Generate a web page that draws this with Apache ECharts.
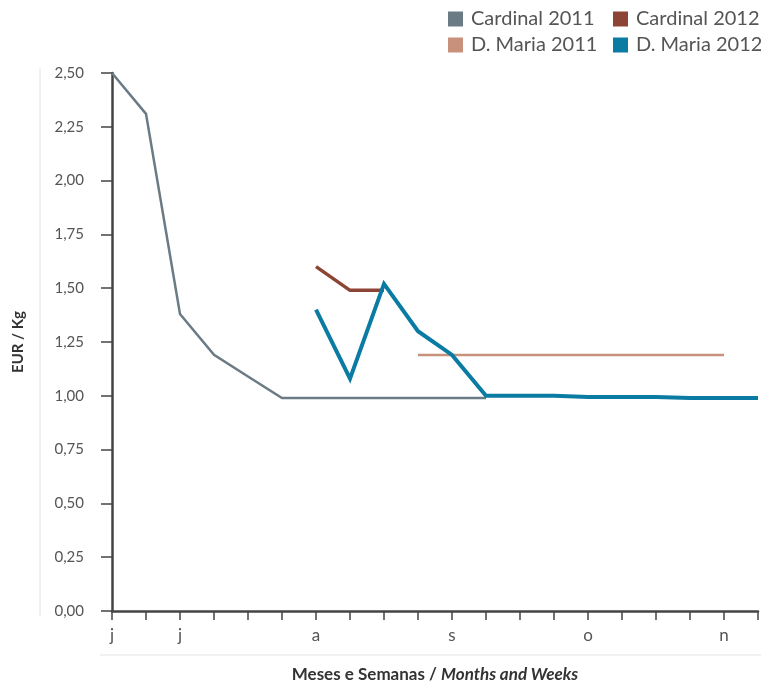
<!DOCTYPE html>
<html><head><meta charset="utf-8">
<script src="https://cdn.jsdelivr.net/npm/echarts@6/dist/echarts.min.js"></script>
<style>html,body{margin:0;padding:0;background:#fff}#c{width:761px;height:684px}</style>
</head><body><div id="c"></div>
<script>
// week index categories (June .. November)
const weeks = ['w0','w1','w2','w3','w4','w5','w6','w7','w8','w9','w10','w11','w12','w13','w14','w15','w16','w17','w18','w19'];
const weekLabels = ['j','','j','','','','a','','','','s','','','','o','','','','n',''];

const cardinal2011 = [2.50,2.31,1.38,1.19,1.09,0.99,0.99,0.99,0.99,0.99,0.99,0.99,null,null,null,null,null,null,null,null];
const cardinal2012 = [null,null,null,null,null,null,1.60,1.49,1.49,null,null,null,null,null,null,null,null,null,null,null];
const dMaria2011   = [null,null,null,null,null,null,null,null,null,1.19,1.19,1.19,1.19,1.19,1.19,1.19,1.19,1.19,1.19,null];
const dMaria2012   = [null,null,null,null,null,null,1.40,1.08,1.52,1.30,1.19,1.00,1.00,1.00,0.995,0.995,0.995,0.99,0.99,0.99];

const FONT = 'Lato';
const chart = echarts.init(document.getElementById('c'));
const mk = (name, data, color, width, z) => ({
  name, type:'line', data, symbol:'none', connectNulls:false, z,
  lineStyle:{color, width, cap:'butt', join:'miter'}, itemStyle:{color}
});
const legendText = {fontSize:20, lineHeight:20, color:'#555', fontFamily:FONT, padding:[0,0,0,3]};
chart.setOption({
  animation:false,
  textStyle:{fontFamily:FONT},
  grid:{left:112, right:3, top:73, bottom:73, containLabel:false, outerBoundsMode:'none'},
  legend:[
    {left:448, top:9, padding:0, orient:'vertical', itemGap:6, itemWidth:15, itemHeight:15, icon:'rect',
     data:['Cardinal 2011','D. Maria 2011'], textStyle:legendText},
    {left:613, top:9, padding:0, orient:'vertical', itemGap:6, itemWidth:15, itemHeight:15, icon:'rect',
     data:['Cardinal 2012','D. Maria 2012'], textStyle:legendText}
  ],
  xAxis:{
    type:'category', data:weeks, boundaryGap:false,
    axisLine:{lineStyle:{color:'#444', width:2.5}},
    axisTick:{show:true, interval:0, length:9, lineStyle:{color:'#444', width:1.5}},
    axisLabel:{interval:0, margin:16, fontSize:17, color:'#555', fontFamily:FONT,
      formatter:(v,i)=>weekLabels[i]},
    splitLine:{show:false},
    name:'{b|Meses e Semanas / }{bi|Months and Weeks}', nameLocation:'middle', nameGap:55,
    nameTextStyle:{rich:{b:{fontWeight:'bold', fontSize:17, color:'#333', fontFamily:FONT},
                         bi:{fontWeight:'bold', fontStyle:'italic', fontSize:17, color:'#333', fontFamily:FONT}}}
  },
  yAxis:{
    type:'value', min:0, max:2.5, interval:0.25,
    axisLine:{show:true, lineStyle:{color:'#444', width:2.5}},
    axisTick:{show:true, length:11, lineStyle:{color:'#444', width:1.5}},
    axisLabel:{margin:28, fontSize:15, color:'#555', fontFamily:FONT,
      formatter:v=>v.toFixed(2).replace('.',',')},
    splitLine:{show:false},
    name:'EUR / Kg', nameLocation:'middle', nameGap:86, nameRotate:90,
    nameTextStyle:{fontWeight:'bold', fontSize:15, color:'#333', fontFamily:FONT}
  },
  graphic:[
    {type:'line', shape:{x1:40, y1:68, x2:40, y2:616}, style:{stroke:'#e2e2e2', lineWidth:1}, silent:true},
    {type:'line', shape:{x1:100, y1:655, x2:761, y2:655}, style:{stroke:'#ececec', lineWidth:1.5}, silent:true}
  ],
  series:[
    mk('Cardinal 2011', cardinal2011, '#6b7b85', 2.5, 2),
    mk('Cardinal 2012', cardinal2012, '#8c4535', 3.5, 3),
    mk('D. Maria 2011', dMaria2011, '#c8917b', 2.5, 3),
    mk('D. Maria 2012', dMaria2012, '#0a7ca3', 4, 4)
  ]
});
</script></body></html>
